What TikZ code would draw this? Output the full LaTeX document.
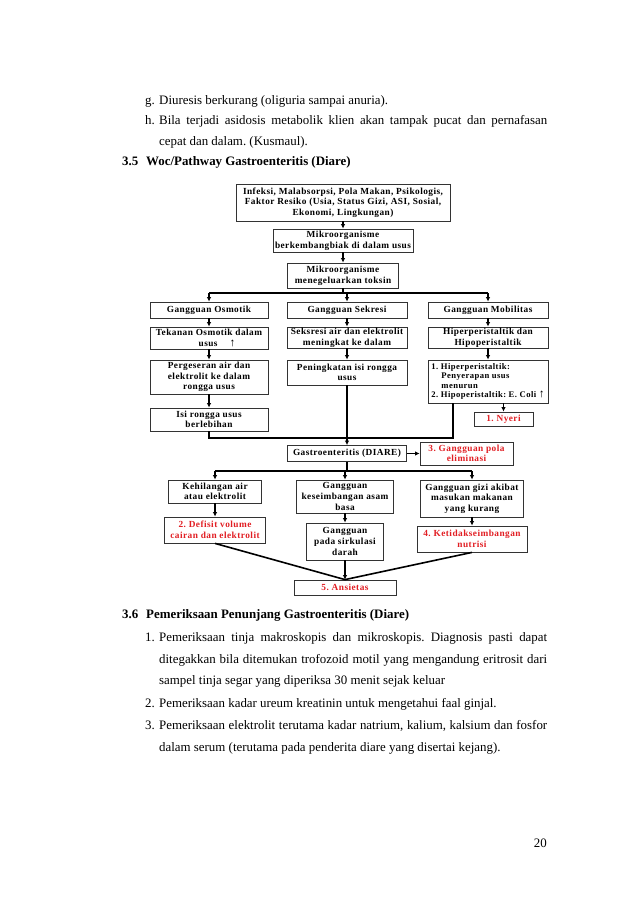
\documentclass[tikz,border=0pt]{standalone}
\usepackage{fontspec}
\setmainfont{Liberation Serif}
\newfontfamily\boxfont[LetterSpace=5]{Liberation Serif}
\usetikzlibrary{arrows.meta}
\definecolor{dxred}{RGB}{225,30,35}
\frenchspacing
\newcommand{\nohyph}{\hyphenpenalty10000\relax}
\newcommand{\naik}{{\fontsize{11.5}{10}\selectfont ↑}}

\tikzset{
  box/.style={draw=black!80, line width=0.8pt, align=center, inner sep=1pt,
    font=\boxfont\bfseries\fontsize{9.3}{10.6}\selectfont},
  redbox/.style={box, text=dxred},
  conn/.style={line width=1.6pt},
  arr/.style={conn, -{Latex[length=4.5pt,width=4.5pt]}},
  body/.style={anchor=base west, inner sep=0pt,
    font=\fontsize{12.9}{20.6}\selectfont\nohyph},
  para/.style={body, text width=388pt, align=justify},
  widepara/.style={para, font=\fontsize{12.9}{21.8}\selectfont\nohyph},
  head/.style={body, font=\bfseries\fontsize{12.9}{20.6}\selectfont},
}

\begin{document}
\begin{tikzpicture}[x=1pt, y=-1pt]
\useasboundingbox (0,0) rectangle (638,903);

% text above the pathway
\node[body] (g) at (145,104) {g.};
\node[para] (gtext) at (159,104) {Diuresis berkurang (oliguria sampai anuria).};
\node[body] (h) at (145,124.6) {h.};
\node[para] (htext) at (159,124.6) {Bila terjadi asidosis metabolik klien akan tampak pucat dan pernafasan\linebreak cepat dan dalam. (Kusmaul).};
\node[head] (sec35) at (122,165.8) {3.5};
\node[head] (sec35t) at (146,165.8) {Woc/Pathway Gastroenteritis (Diare)};

% pathway
\node[box, minimum width=214pt, minimum height=37pt] (cause) at (343,202.5)
  {Infeksi, Malabsorpsi, Pola Makan, Psikologis,\\ Faktor Resiko (Usia, Status Gizi, ASI, Sosial,\\ Ekonomi, Lingkungan)};
\node[box, minimum width=140pt, minimum height=23pt] (mikro1) at (343,240.5)
  {Mikroorganisme\\ berkembangbiak di dalam usus};
\node[box, minimum width=111pt, minimum height=25pt] (mikro2) at (343,275.5)
  {Mikroorganisme\\ menegeluarkan toksin};

\node[box, minimum width=118pt, minimum height=22pt] (osm2) at (209,338) {Tekanan Osmotik dalam\\ \hspace*{16pt}usus\hspace{12pt}\naik};
\node[box, minimum width=118pt, minimum height=16pt] (osm1) at (209,310) {Gangguan Osmotik};
\node[box, minimum width=118pt, minimum height=34pt] (osm3) at (209,377) {Pergeseran air dan\\ elektrolit ke dalam\\ rongga usus};
\node[box, minimum width=118pt, minimum height=23pt] (osm4) at (209,419.5) {Isi rongga usus\\ berlebihan};

\node[box, minimum width=120pt, minimum height=16pt] (sek1) at (347,310) {Gangguan Sekresi};
\node[box, minimum width=120pt, minimum height=21pt] (sek2) at (347,337.5) {Seksresi air dan elektrolit\\ meningkat ke dalam};
\node[box, minimum width=120pt, minimum height=25pt] (sek3) at (347,372.5) {Peningkatan isi rongga\\ usus};

\node[box, minimum width=120pt, minimum height=16pt] (mob1) at (488,310) {Gangguan Mobilitas};
\node[box, minimum width=120pt, minimum height=21pt] (mob2) at (488,337.5) {Hiperperistaltik dan\\ Hipoperistaltik};
\node[box, minimum width=120pt, minimum height=43pt, align=left,
  font=\boxfont\bfseries\fontsize{8.6}{9.6}\selectfont] (mob3) at (488,381.5)
  {1.\ Hiperperistaltik:\\ \hspace*{10pt}Penyerapan usus\\ \hspace*{10pt}menurun\\ 2.\ Hipoperistaltik: E. Coli \naik};
\node[redbox, minimum width=59pt, minimum height=14pt] (nyeri) at (503.5,419) {1. Nyeri};

\node[box, minimum width=119pt, minimum height=16pt] (gastro) at (347,453.5) {Gastroenteritis (DIARE)};
\node[redbox, minimum width=93pt, minimum height=23pt] (pola) at (466.5,453.5) {3. Gangguan pola\\ eliminasi};

\node[box, minimum width=93pt, minimum height=23pt] (keh) at (215,491.5) {Kehilangan air\\ atau elektrolit};
\node[redbox, minimum width=101pt, minimum height=26pt] (defisit) at (215,530) {2. Defisit volume\\ cairan dan elektrolit};
\node[box, minimum width=97pt, minimum height=33pt] (asam) at (345,496.5) {Gangguan\\ keseimbangan asam\\ basa};
\node[box, minimum width=77pt, minimum height=37pt] (sirk) at (345,541.5) {Gangguan\\ pada sirkulasi\\ darah};
\node[box, minimum width=103pt, minimum height=37pt] (gizi) at (472,498.5) {Gangguan gizi akibat\\ masukan makanan\\ yang kurang};
\node[redbox, minimum width=110pt, minimum height=26pt] (nutrisi) at (472,539) {4. Ketidakseimbangan\\ nutrisi};
\node[redbox, minimum width=102pt, minimum height=15pt] (ansietas) at (345,587.5) {5. Ansietas};

% connectors
\coordinate (split1) at (343,293);
\coordinate (join1) at (347,438);
\coordinate (mobleg) at (453,0);
\coordinate (split2) at (347,471);

\draw[arr] (cause) -- (mikro1);
\draw[arr] (mikro1) -- (mikro2);
\draw[conn] (mikro2) -- (split1);
\draw[conn] (osm1 |- split1) -- (mob1 |- split1);
\foreach \n in {osm1,sek1,mob1}
  \draw[arr] (\n |- split1) -- (\n);
\draw[arr] (osm1) -- (osm2);
\draw[arr] (osm2) -- (osm3);
\draw[arr] (osm3) -- (osm4);
\draw[arr] (sek1) -- (sek2);
\draw[arr] (sek2) -- (sek3);
\draw[arr] (mob1) -- (mob2);
\draw[arr] (mob2) -- (mob3);
\draw[arr] (mob3.south -| nyeri) -- (nyeri);

\draw[conn] (osm4) |- (join1);
\draw[conn] (mob3.south -| mobleg) |- (join1);
\draw[arr] (sek3) -- (gastro);
\draw[arr] (gastro) -- (pola);

\draw[conn] (gastro) -- (split2);
\draw[conn] (keh |- split2) -- (gizi |- split2);
\foreach \n in {keh,asam,gizi}
  \draw[arr] (\n |- split2) -- (\n);
\draw[arr] (keh) -- (defisit);
\draw[arr] (asam) -- (sirk);
\draw[arr] (gizi) -- (nutrisi);
\draw[conn] (defisit.south) -- (ansietas.north);
\draw[conn] (nutrisi.south) -- (ansietas.north);
\draw[arr] (sirk) -- (ansietas);

% text below the pathway
\node[head] (sec36) at (122,618.5) {3.6};
\node[head] (sec36t) at (146,618.5) {Pemeriksaan Penunjang Gastroenteritis (Diare)};
\node[body] (i1) at (145,641.2) {1.};
\node[widepara] (i1text) at (159,641.2) {Pemeriksaan tinja makroskopis dan mikroskopis. Diagnosis pasti dapat\linebreak ditegakkan bila ditemukan trofozoid motil yang mengandung eritrosit dari\linebreak sampel tinja segar yang diperiksa 30 menit sejak keluar};
\node[body] (i2) at (145,707.8) {2.};
\node[widepara] (i2text) at (159,707.8) {Pemeriksaan kadar ureum kreatinin untuk mengetahui faal ginjal.};
\node[body] (i3) at (145,729.5) {3.};
\node[widepara] (i3text) at (159,729.5) {Pemeriksaan elektrolit terutama kadar natrium, kalium, kalsium dan fosfor\linebreak dalam serum (terutama pada penderita diare yang disertai kejang).};
\node[body, anchor=base east] (pagenum) at (547,847.5) {20};
\end{tikzpicture}
\end{document}
